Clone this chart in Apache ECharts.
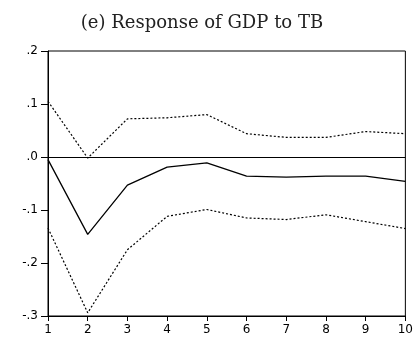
<!DOCTYPE html>
<html><head><meta charset="utf-8">
<script src="https://cdn.jsdelivr.net/npm/echarts@6/dist/echarts.min.js"></script>
<style>html,body{margin:0;padding:0;background:#fff}#c{width:416px;height:340px}</style>
</head><body><div id="c"></div>
<script>
const periods = [1,2,3,4,5,6,7,8,9,10];
const response = [-0.005,-0.146,-0.053,-0.019,-0.011,-0.036,-0.038,-0.036,-0.036,-0.046];
const upperBand = [0.105,-0.002,0.072,0.074,0.080,0.044,0.037,0.037,0.048,0.044];
const lowerBand = [-0.134,-0.294,-0.175,-0.112,-0.099,-0.115,-0.118,-0.109,-0.122,-0.135];
const titleText = '(e) Response of GDP to TB';

const pair = arr => periods.map((p,i)=>[p, arr[i]]);
const fmt = v => { if (Math.abs(v) < 1e-9) return '.0'; return v.toFixed(1).replace('0.', '.'); };
const band = {type:'line', symbol:'none', silent:true, lineStyle:{color:'#000', width:1.2, type:[2,2]}};

const chart = echarts.init(document.getElementById('c'), null, {renderer:'canvas'});
chart.setOption({
  animation:false,
  title:{text:titleText, left:197, top:9, textAlign:'center',
    textStyle:{fontFamily:'DejaVu Serif', fontWeight:'normal', fontSize:18, color:'#222'}},
  grid:{left:48, top:51, right:4, bottom:24, show:true, borderColor:'#000', borderWidth:1, backgroundColor:'transparent'},
  xAxis:{type:'value', min:1, max:10, interval:1,
    axisLine:{show:true, onZero:false, lineStyle:{color:'#000', width:1}},
    axisTick:{show:true, length:5, lineStyle:{color:'#000'}},
    axisLabel:{margin:8, color:'#000', fontFamily:'DejaVu Sans', fontWeight:'normal', fontSize:12},
    splitLine:{show:false}},
  yAxis:{type:'value', min:-0.3, max:0.2, interval:0.1,
    axisLine:{show:true, lineStyle:{color:'#000', width:1}},
    axisTick:{show:true, length:7, lineStyle:{color:'#000'}},
    axisLabel:{margin:10, color:'#000', fontFamily:'DejaVu Sans', fontWeight:'normal', fontSize:12, formatter:fmt},
    splitLine:{show:false}},
  series:[
    {type:'line', symbol:'none', silent:true, data:pair(response),
     lineStyle:{color:'#000', width:1.3},
     markLine:{silent:true, symbol:'none', label:{show:false}, lineStyle:{color:'#000', width:1, type:'solid'}, data:[{yAxis:0}]}},
    Object.assign({}, band, {data:pair(upperBand)}),
    Object.assign({}, band, {data:pair(lowerBand)})
  ]
});
</script></body></html>
